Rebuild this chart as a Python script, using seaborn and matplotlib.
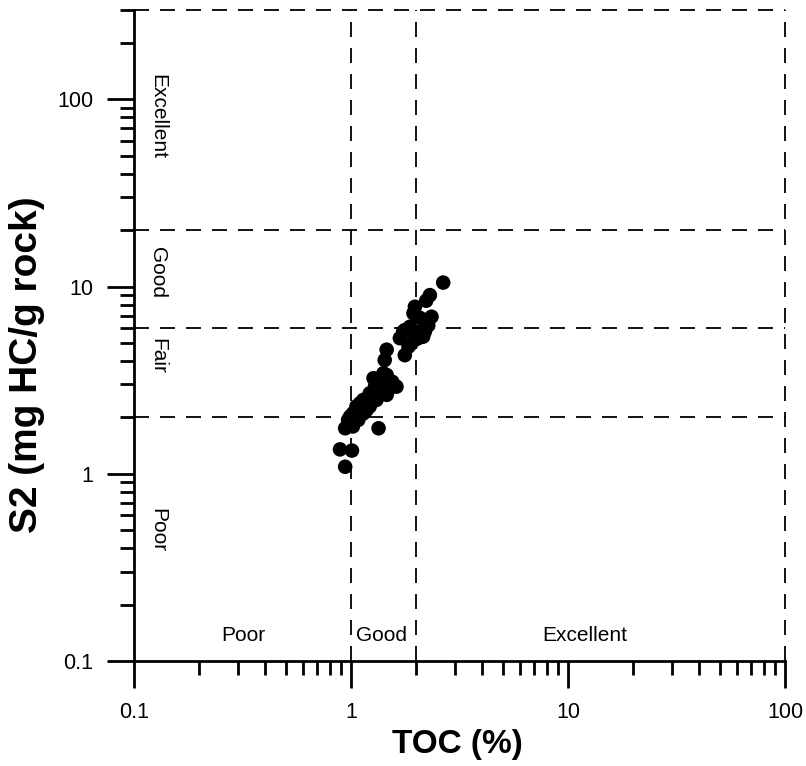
import matplotlib
matplotlib.use("Agg")
import matplotlib.pyplot as plt
import matplotlib.ticker as mticker
import seaborn as sns
import pandas as pd

# ---- data ----
toc = [2.66, 2.31, 2.22, 1.97, 1.94, 2.35, 2.08, 2.23, 1.87, 1.74, 2.08, 1.68,
       1.97, 2.15, 1.84, 1.77, 1.46, 1.43, 1.46, 1.29, 1.62, 1.38, 1.22, 1.46,
       1.14, 1.31, 1.06, 1.22, 1.02, 1.14, 0.97, 1.08, 0.94, 1.02, 1.34, 0.89,
       1.01, 0.94, 1.29, 1.51, 1.38, 1.10, 1.18, 1.27, 0.99, 1.18, 1.34, 1.41,
       1.27, 1.20, 1.35, 1.50, 1.10, 1.25, 1.55, 1.90, 2.04, 2.19, 2.27, 1.77]
s2 = [10.5, 9.0, 8.4, 7.8, 7.2, 6.9, 6.8, 6.2, 6.1, 5.75, 5.75, 5.3,
      5.2, 5.4, 4.77, 4.3, 4.6, 4.05, 3.37, 3.17, 2.92, 2.8, 2.69, 2.64,
      2.48, 2.48, 2.29, 2.29, 2.1, 2.1, 1.94, 1.94, 1.75, 1.79, 1.75, 1.35,
      1.33, 1.09, 2.92, 3.04, 3.24, 2.38, 2.38, 2.58, 2.02, 2.19, 3.1, 3.44,
      3.24, 2.55, 2.85, 2.85, 2.2, 2.45, 3.1, 4.97, 5.3, 5.75, 6.2, 5.85]

toc_bounds = [1, 2, 100]
s2_bounds = [2, 6, 20, 300]
x_zone_labels = ["Poor", "Good", "Excellent"]
x_zone_pos = [0.318, 1.375, 12.0]
y_zone_labels = ["Excellent", "Good", "Fair", "Poor"]
y_zone_pos = [81.0, 11.9, 4.26, 0.50]
xticks = [0.1, 1, 10, 100]
xticklabels = ["0.1", "1", "10", "100"]
yticks = [0.1, 1, 10, 100]
yticklabels = ["0.1", "1", "10", "100"]

df = pd.DataFrame({"TOC": toc, "S2": s2})

sns.set_style("ticks", {"axes.edgecolor": "black", "text.color": "black",
                        "xtick.color": "black", "ytick.color": "black",
                        "axes.labelcolor": "black"})
plt.rcParams["font.family"] = ["Liberation Sans", "DejaVu Sans"]

fig = plt.figure(figsize=(8.06, 7.66), dpi=100)
ax = fig.add_axes([134 / 806, 105 / 766, 651 / 806, 651 / 766])

ax.set_xscale("log")
ax.set_yscale("log")
ax.set_xlim(0.1, 100)
ax.set_ylim(0.1, 300)

sns.scatterplot(data=df, x="TOC", y="S2", ax=ax, color="black", s=110,
                edgecolor="none", linewidth=0, zorder=3)

for xv in toc_bounds:
    ax.plot([xv, xv], [0.1, 300], color="black", lw=1.3, dashes=(8.3, 6.1),
            zorder=2, clip_on=False)
for yv in s2_bounds:
    ax.plot([0.1, 100], [yv, yv], color="black", lw=1.3, dashes=(8.3, 6.1),
            zorder=2, clip_on=False)

for lab, xv in zip(x_zone_labels, x_zone_pos):
    ax.text(xv, 0.137, lab, ha="center", va="center", fontsize=15,
            color="black")
for lab, yv in zip(y_zone_labels, y_zone_pos):
    ax.text(0.128, yv, lab, ha="center", va="center", fontsize=15,
            rotation=-90, color="black")

for s in ["top", "right"]:
    ax.spines[s].set_visible(False)
for s in ["left", "bottom"]:
    ax.spines[s].set_linewidth(2)
    ax.spines[s].set_color("black")

ax.set_xticks(xticks)
ax.set_xticklabels(xticklabels)
ax.set_yticks(yticks)
ax.set_yticklabels(yticklabels)
ax.xaxis.set_minor_formatter(mticker.NullFormatter())
ax.yaxis.set_minor_formatter(mticker.NullFormatter())
ax.tick_params(which="major", length=19.5, width=2, direction="out",
               labelsize=15.5, pad=10, colors="black")
ax.tick_params(which="minor", length=10, width=2, direction="out",
               colors="black")

ax.set_xlabel("TOC (%)", fontsize=24, fontweight="bold", color="black")
ax.set_ylabel("S2 (mg HC/g rock)", fontsize=28, fontweight="bold",
              color="black")
ax.xaxis.set_label_coords((457 - 134) / 651, -(745 - 661) / 651)
ax.yaxis.set_label_coords(-(134 - 27) / 651, (661 - 365) / 651)
ax.xaxis.label.set_va("center")
ax.yaxis.label.set_va("center")

fig.savefig("out.png", dpi=100)
